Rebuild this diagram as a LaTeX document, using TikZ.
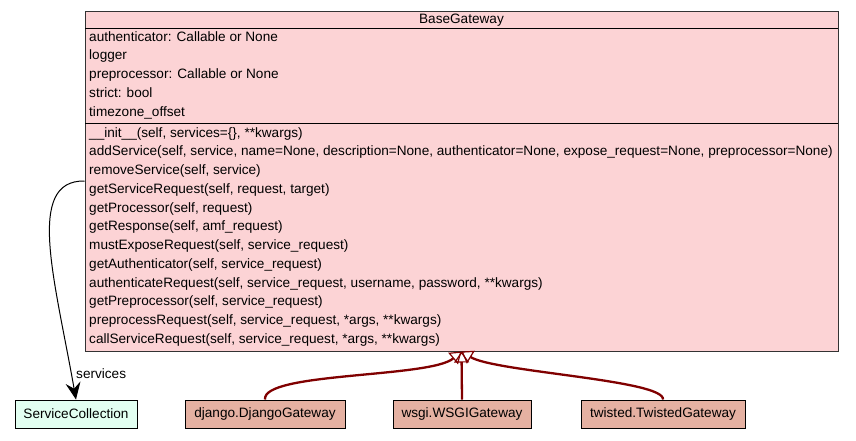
\documentclass[tikz,border=0pt]{standalone}
\usepackage{fontspec}
\setmainfont{Liberation Sans}
\usetikzlibrary{arrows.meta}
\definecolor{classpink}{RGB}{252,211,213}
\definecolor{mint}{RGB}{226,255,241}
\definecolor{salmon}{RGB}{229,177,162}
\definecolor{maroon}{RGB}{128,0,0}
\begin{document}
\begin{tikzpicture}[x=1pt,y=-1pt,
  every node/.style={font=\fontsize{13.6}{16}\selectfont},
  classbox/.style={draw=black!80, line width=1pt, fill=classpink, minimum width=753pt, minimum height=340pt, inner sep=0pt},
  leafbox/.style={draw=black, line width=1pt, minimum height=28pt, inner sep=0pt},
  member/.style={anchor=base west, inner sep=0pt},
  inherit/.style={draw=maroon, line width=2.3pt, -{Triangle[open, length=11pt, width=15pt, line width=1.2pt]}},
  assoc/.style={draw=black, line width=1pt, -{Stealth[length=17pt, width=15pt, inset=6pt]}}
]
\useasboundingbox (0,0) rectangle (856,440);
% main class
\node[classbox] (base) at (461.5,181) {};
\draw[line width=1pt] (85,28) -- (838,28);
\draw[line width=1pt] (85,123) -- (838,123);
\node[anchor=base, inner sep=0pt] (title) at (461.5,23) {BaseGateway};
\node[member] (a1) at (89,41) {authenticator: Callable or None};
\node[member] (a2) at (89,59.75) {logger};
\node[member] (a3) at (89,78.5) {preprocessor: Callable or None};
\node[member] (a4) at (89,97.25) {strict: bool};
\node[member] (a5) at (89,116) {timezone\_offset};
\node[member] (m1) at (89,137) {\_\_init\_\_(self, services=\{\}, **kwargs)};
\node[member] (m2) at (89,155.75) {addService(self, service, name=None, description=None, authenticator=None, expose\_request=None, preprocessor=None)};
\node[member] (m3) at (89,174.5) {removeService(self, service)};
\node[member] (m4) at (89,193.25) {getServiceRequest(self, request, target)};
\node[member] (m5) at (89,212) {getProcessor(self, request)};
\node[member] (m6) at (89,230.75) {getResponse(self, amf\_request)};
\node[member] (m7) at (89,249.5) {mustExposeRequest(self, service\_request)};
\node[member] (m8) at (89,268.25) {getAuthenticator(self, service\_request)};
\node[member] (m9) at (89,287) {authenticateRequest(self, service\_request, username, password, **kwargs)};
\node[member] (m10) at (89,305.75) {getPreprocessor(self, service\_request)};
\node[member] (m11) at (89,324.5) {preprocessRequest(self, service\_request, *args, **kwargs)};
\node[member] (m12) at (89,343.25) {callServiceRequest(self, service\_request, *args, **kwargs)};
% leaf classes
\node[leafbox, fill=mint, minimum width=122pt] (sc) at (76,414) {ServiceCollection};
\node[leafbox, fill=salmon, minimum width=160pt] (dj) at (265,414) {django.DjangoGateway};
\node[leafbox, fill=salmon, minimum width=138pt] (ws) at (462,414) {wsgi.WSGIGateway};
\node[leafbox, fill=salmon, minimum width=164pt] (tw) at (663,414) {twisted.TwistedGateway};
% association
\draw[assoc] (base.west) .. controls (25,180) and (55,280) .. (sc.north);
\node[anchor=base west, inner sep=0pt] (lbl) at (76,378) {services};
% inheritance
\draw[inherit] (dj.north) .. controls (262,372) and (430,378) .. (base.south);
\draw[inherit] (ws.north) -- (base.south);
\draw[inherit] (tw.north) .. controls (665,380) and (495,372) .. (base.south);
\end{tikzpicture}
\end{document}
